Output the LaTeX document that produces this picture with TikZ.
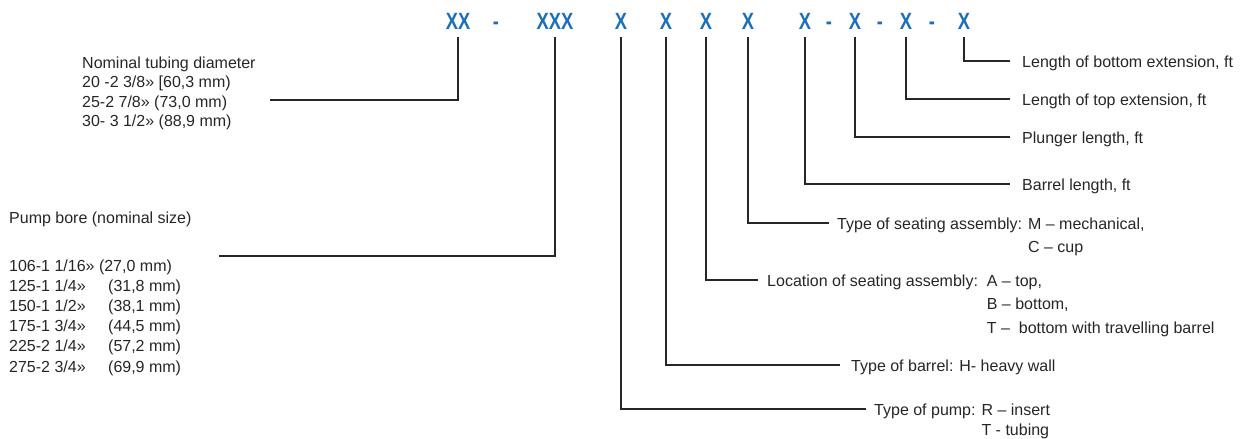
\documentclass[tikz,border=0pt]{standalone}
\usepackage{fontspec}
\usepackage{graphicx}
\setmainfont{Liberation Sans}
\usetikzlibrary{calc}
\definecolor{codeblue}{RGB}{27,111,184}
\definecolor{inkgray}{RGB}{38,38,38}
% condensed bold glyphs for the designation code
\newcommand{\codeglyphs}[1]{\scalebox{0.78}[1]{#1}}

\begin{document}
\begin{tikzpicture}[x=1pt,y=-1pt,
  code/.style={anchor=base, inner sep=0pt, text=codeblue,
    font=\fontsize{23.5}{24}\selectfont\bfseries},
  lbl/.style={anchor=base west, inner sep=0pt, text=inkgray,
    font=\fontsize{16}{20}\selectfont},
  lead/.style={draw=inkgray, line width=1.8pt, line join=miter}]

\useasboundingbox (0,0) rectangle (1240,439);

% ---- designation code ----
\node[code] (c1)  at (458,29.5) {\codeglyphs{XX}};
\node[code] (d1)  at (496,29.5) {\codeglyphs{-}};
\node[code] (c2)  at (555,29.5) {\codeglyphs{XXX}};
\node[code] (c3)  at (621,29.5) {\codeglyphs{X}};
\node[code] (c4)  at (666,29.5) {\codeglyphs{X}};
\node[code] (c5)  at (706,29.5) {\codeglyphs{X}};
\node[code] (c6)  at (748,29.5) {\codeglyphs{X}};
\node[code] (c7)  at (805,29.5) {\codeglyphs{X}};
\node[code] (d2)  at (829,29.5) {\codeglyphs{-}};
\node[code] (c8)  at (855,29.5) {\codeglyphs{X}};
\node[code] (d3)  at (880,29.5) {\codeglyphs{-}};
\node[code] (c9)  at (906,29.5) {\codeglyphs{X}};
\node[code] (d4)  at (932,29.5) {\codeglyphs{-}};
\node[code] (c10) at (964,29.5) {\codeglyphs{X}};

% ---- tubing diameter block ----
\node[lbl] (nom1) at (82,68)    {Nominal tubing diameter};
\node[lbl] (nom2) at (82,87.5)  {20 -2 3/8» [60,3 mm)};
\node[lbl] (nom3) at (82,107)   {25-2 7/8» (73,0 mm)};
\node[lbl] (nom4) at (82,126.5) {30- 3 1/2» (88,9 mm)};
\coordinate (nomEnd) at (270,100);

% ---- pump bore block ----
\node[lbl] (bore0) at (9,223)   {Pump bore (nominal size)};
\node[lbl] (bore1) at (9,271)   {106-1 1/16» (27,0 mm)};
\node[lbl] (bore2) at (9,291.2) {\makebox[99pt][l]{125-1 1/4»}(31,8 mm)};
\node[lbl] (bore3) at (9,311.4) {\makebox[99pt][l]{150-1 1/2»}(38,1 mm)};
\node[lbl] (bore4) at (9,331.6) {\makebox[99pt][l]{175-1 3/4»}(44,5 mm)};
\node[lbl] (bore5) at (9,351.8) {\makebox[99pt][l]{225-2 1/4»}(57,2 mm)};
\node[lbl] (bore6) at (9,372)   {\makebox[99pt][l]{275-2 3/4»}(69,9 mm)};
\coordinate (boreEnd) at (219,256);

% ---- right-hand descriptions ----
\node[lbl] (lBot)  at (1022,67)  {Length of bottom extension, ft};
\node[lbl] (lTop)  at (1022,105) {Length of top extension, ft};
\node[lbl] (lPlg)  at (1022,143) {Plunger length, ft};
\node[lbl] (lBar)  at (1022,190) {Barrel length, ft};
\node[lbl] (lSeat) at (837,229)  {Type of seating assembly: M – mechanical,};
\node[lbl] (lSeatB) at (837,252) {\phantom{Type of seating assembly: }C – cup};
\node[lbl] (lLoc)  at (767,286)  {Location of seating assembly:\ \ A – top,};
\node[lbl] (lLocB) at (767,309)  {\phantom{Location of seating assembly:\ \ }B – bottom,};
\node[lbl] (lLocC) at (767,333)  {\phantom{Location of seating assembly:\ \ }T –\ \ bottom with travelling barrel};
\node[lbl] (lBrl)  at (851,371)  {Type of barrel: H- heavy wall};
\node[lbl] (lPmp)  at (874,415)  {Type of pump: R – insert};
\node[lbl] (lPmpB) at (874,435.5) {\phantom{Type of pump: }T - tubing};

% ---- leaders ----
\draw[lead] ($(c1.base)+(0,7.5)$)  |- (nomEnd);
\draw[lead] ($(c2.base)+(0,7.5)$)  |- (boreEnd);
\draw[lead] ($(c3.base)+(0,7.5)$)  |- ($(lPmp.base west)+(-8,-6)$);
\draw[lead] ($(c4.base)+(0,7.5)$)  |- ($(lBrl.base west)+(-11,-6)$);
\draw[lead] ($(c5.base)+(0,7.5)$)  |- ($(lLoc.base west)+(-9,-6)$);
\draw[lead] ($(c6.base)+(0,7.5)$)  |- ($(lSeat.base west)+(-8,-6)$);
\draw[lead] ($(c7.base)+(0,7.5)$)  |- ($(lBar.base west)+(-12,-6)$);
\draw[lead] ($(c8.base)+(0,7.5)$)  |- ($(lPlg.base west)+(-12,-6)$);
\draw[lead] ($(c9.base)+(0,7.5)$)  |- ($(lTop.base west)+(-12,-6)$);
\draw[lead] ($(c10.base)+(0,7.5)$) |- ($(lBot.base west)+(-12,-6)$);

\end{tikzpicture}
\end{document}
